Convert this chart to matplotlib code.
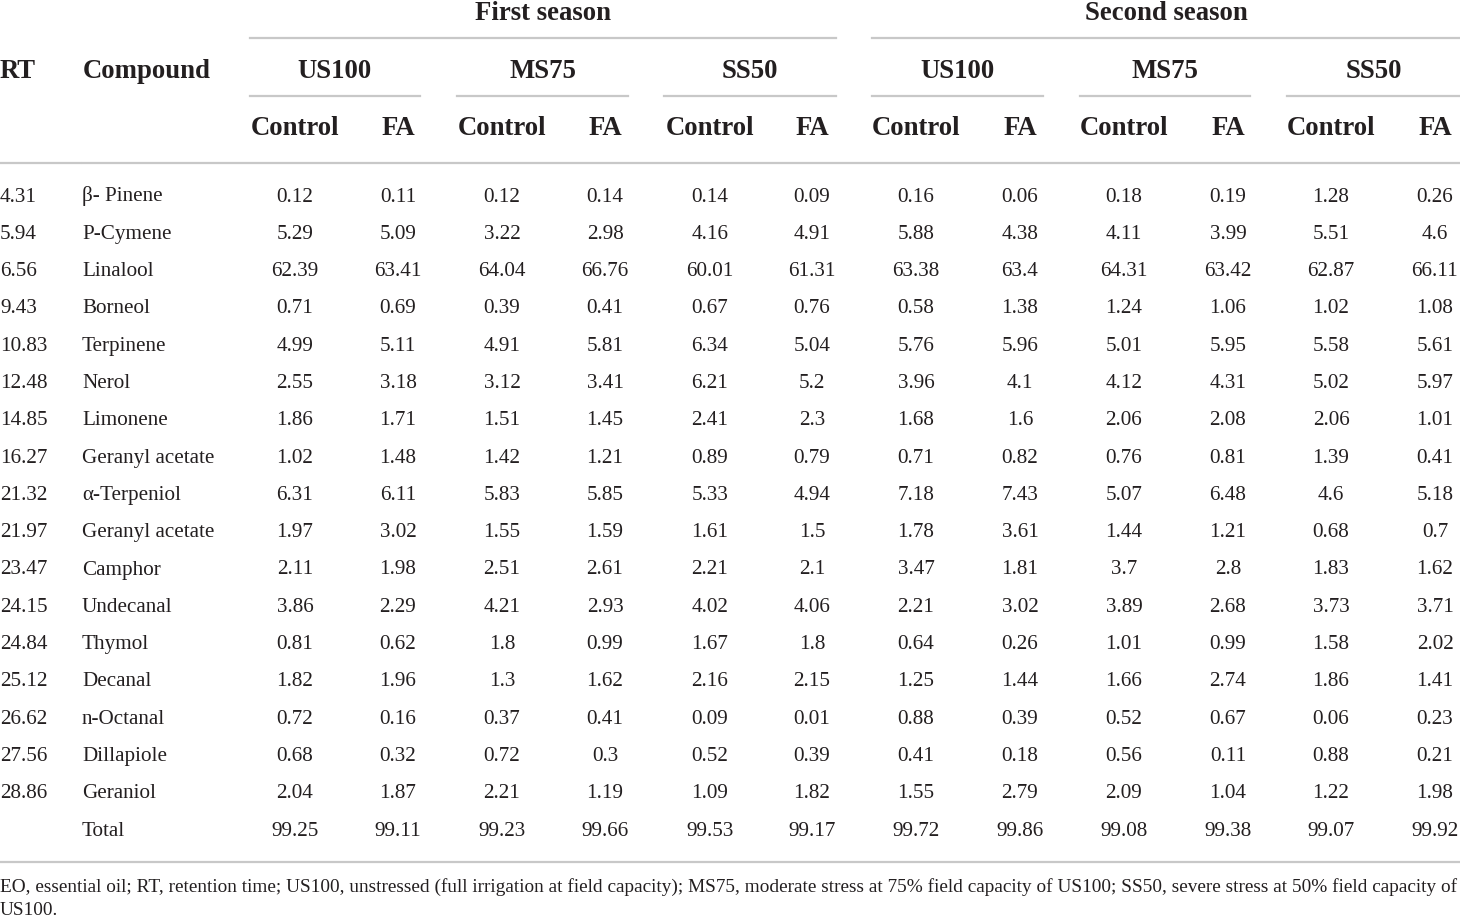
import matplotlib.pyplot as plt
from matplotlib.lines import Line2D

# table contents
rt = ["4.31", "5.94", "6.56", "9.43", "10.83", "12.48", "14.85", "16.27", "21.32",
      "21.97", "23.47", "24.15", "24.84", "25.12", "26.62", "27.56", "28.86", ""]
compounds = ["β- Pinene", "P-Cymene", "Linalool", "Borneol", "Terpinene", "Nerol",
             "Limonene", "Geranyl acetate", "α-Terpeniol", "Geranyl acetate", "Camphor",
             "Undecanal", "Thymol", "Decanal", "n-Octanal", "Dillapiole", "Geraniol", "Total"]
seasons = ["First season", "Second season"]
treatments = ["US100", "MS75", "SS50"]
subheads = ["Control", "FA"]

first_season = [
    ["0.12", "0.11", "0.12", "0.14", "0.14", "0.09"],
    ["5.29", "5.09", "3.22", "2.98", "4.16", "4.91"],
    ["62.39", "63.41", "64.04", "66.76", "60.01", "61.31"],
    ["0.71", "0.69", "0.39", "0.41", "0.67", "0.76"],
    ["4.99", "5.11", "4.91", "5.81", "6.34", "5.04"],
    ["2.55", "3.18", "3.12", "3.41", "6.21", "5.2"],
    ["1.86", "1.71", "1.51", "1.45", "2.41", "2.3"],
    ["1.02", "1.48", "1.42", "1.21", "0.89", "0.79"],
    ["6.31", "6.11", "5.83", "5.85", "5.33", "4.94"],
    ["1.97", "3.02", "1.55", "1.59", "1.61", "1.5"],
    ["2.11", "1.98", "2.51", "2.61", "2.21", "2.1"],
    ["3.86", "2.29", "4.21", "2.93", "4.02", "4.06"],
    ["0.81", "0.62", "1.8", "0.99", "1.67", "1.8"],
    ["1.82", "1.96", "1.3", "1.62", "2.16", "2.15"],
    ["0.72", "0.16", "0.37", "0.41", "0.09", "0.01"],
    ["0.68", "0.32", "0.72", "0.3", "0.52", "0.39"],
    ["2.04", "1.87", "2.21", "1.19", "1.09", "1.82"],
    ["99.25", "99.11", "99.23", "99.66", "99.53", "99.17"],
]
second_season = [
    ["0.16", "0.06", "0.18", "0.19", "1.28", "0.26"],
    ["5.88", "4.38", "4.11", "3.99", "5.51", "4.6"],
    ["63.38", "63.4", "64.31", "63.42", "62.87", "66.11"],
    ["0.58", "1.38", "1.24", "1.06", "1.02", "1.08"],
    ["5.76", "5.96", "5.01", "5.95", "5.58", "5.61"],
    ["3.96", "4.1", "4.12", "4.31", "5.02", "5.97"],
    ["1.68", "1.6", "2.06", "2.08", "2.06", "1.01"],
    ["0.71", "0.82", "0.76", "0.81", "1.39", "0.41"],
    ["7.18", "7.43", "5.07", "6.48", "4.6", "5.18"],
    ["1.78", "3.61", "1.44", "1.21", "0.68", "0.7"],
    ["3.47", "1.81", "3.7", "2.8", "1.83", "1.62"],
    ["2.21", "3.02", "3.89", "2.68", "3.73", "3.71"],
    ["0.64", "0.26", "1.01", "0.99", "1.58", "2.02"],
    ["1.25", "1.44", "1.66", "2.74", "1.86", "1.41"],
    ["0.88", "0.39", "0.52", "0.67", "0.06", "0.23"],
    ["0.41", "0.18", "0.56", "0.11", "0.88", "0.21"],
    ["1.55", "2.79", "2.09", "1.04", "1.22", "1.98"],
    ["99.72", "99.86", "99.08", "99.38", "99.07", "99.92"],
]
footnote = ["EO, essential oil; RT, retention time; US100, unstressed (full irrigation at field capacity); "
            "MS75, moderate stress at 75% field capacity of US100; SS50, severe stress at 50% field capacity of",
            "US100."]

plt.rcParams["font.family"] = ["Liberation Serif", "DejaVu Serif"]
TXT = "#231f20"
RULE = "#c8c8c8"

fig = plt.figure(figsize=(14.6, 9.18), dpi=100)
ax = fig.add_axes([0, 0, 1, 1])
ax.set_xlim(0, 1460)
ax.set_ylim(918, 0)
ax.axis("off")


def rule(x0, x1, y, lw=1.6):
    ax.add_line(Line2D([x0, x1], [y, y], color=RULE, lw=lw))


def put(x, y, s, ha="center", size=15.2, bold=False):
    ax.text(x, y, s, ha=ha, va="baseline", fontsize=size,
            fontweight="bold" if bold else "normal", color=TXT)


# column geometry (pixels)
col_x = [295, 398, 502, 605, 710, 812, 916, 1020, 1124, 1228, 1331, 1435]
season_span = [(250, 836), (872, 1460)]
group_span = [(250, 420), (457, 628), (664, 836), (872, 1043), (1080, 1250), (1287, 1460)]
hdr_size = 19.3

# header
for name, (a, b) in zip(seasons, season_span):
    put((a + b) / 2, 20, name, size=hdr_size, bold=True)
    rule(a, b, 38)
for i, (a, b) in enumerate(group_span):
    put((a + b) / 2, 78, treatments[i % 3], size=hdr_size, bold=True)
    rule(a, b, 96)
for i, x in enumerate(col_x):
    put(x, 135, subheads[i % 2], size=hdr_size, bold=True)
put(0, 78, "RT", ha="left", size=hdr_size, bold=True)
put(83, 78, "Compound", ha="left", size=hdr_size, bold=True)
rule(0, 81, 163)
rule(83, 1460, 163)

# body
y0, dy = 201.5, 37.3
for r in range(len(compounds)):
    y = y0 + r * dy
    put(0, y, rt[r], ha="left")
    put(82, y, compounds[r], ha="left")
    vals = first_season[r] + second_season[r]
    for x, v in zip(col_x, vals):
        put(x, y, v)

rule(0, 1460, 862)
put(0, 892, footnote[0], ha="left", size=13.85)
put(0, 915, footnote[1], ha="left", size=13.85)

fig.savefig("out.png", dpi=100)
